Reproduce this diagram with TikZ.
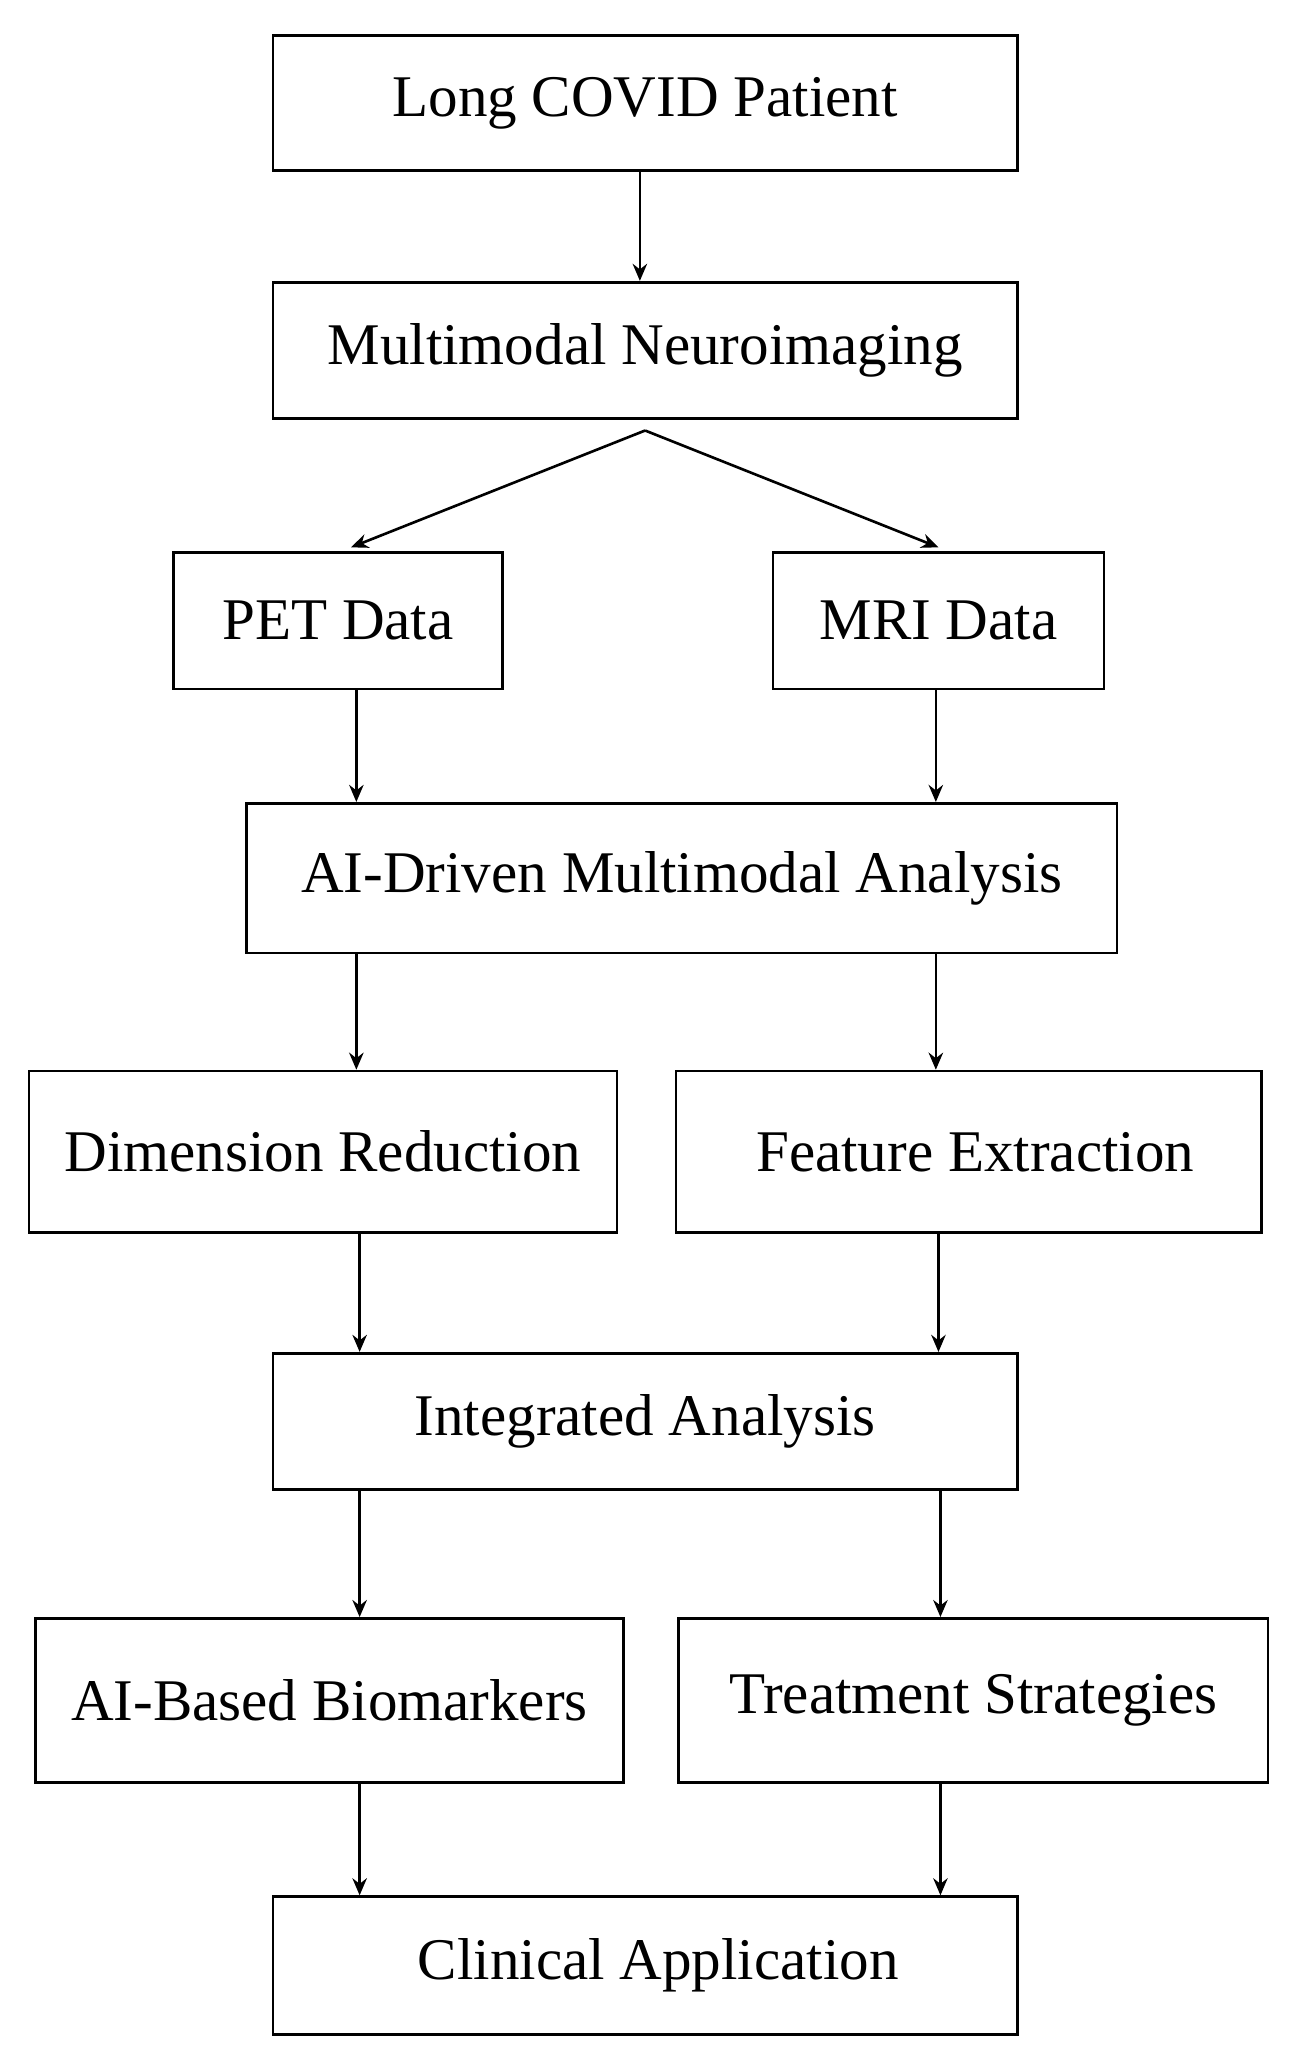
\documentclass[tikz,border=0pt]{standalone}
\usepackage{fontspec}
\setmainfont{Liberation Serif}
\usetikzlibrary{arrows.meta}
\tikzset{every picture/.style={line width=2pt}}
\tikzset{
  box/.style={draw, inner sep=0pt, font=\fontsize{45}{50}\selectfont},
  arr/.style={-{Stealth[length=13pt,width=11pt]}}
}
\begin{document}
\begin{tikzpicture}[x=1pt,y=1pt,yscale=-1]
\useasboundingbox (0,0) rectangle (990,1571);

% boxes
\node[box, minimum width=567pt, minimum height=103pt] (patient) at (491.5,78.5) {Long COVID Patient};
\node[box, minimum width=567pt, minimum height=104pt] (neuro) at (491.5,267) {Multimodal Neuroimaging};
\node[box, minimum width=251pt, minimum height=104pt] (pet) at (257.5,473) {PET Data};
\node[box, minimum width=252pt, minimum height=104pt] (mri) at (715,473) {MRI Data};
\node[box, minimum width=663pt, minimum height=114pt] (aidriven) at (519.5,669) {AI-Driven Multimodal Analysis};
\node[box, minimum width=448pt, minimum height=123pt] (dimred) at (246,877.5) {Dimension Reduction};
\node[box, minimum width=446pt, minimum height=123pt] (feature) at (738,877.5) {\hspace*{10pt}Feature Extraction};
\node[box, minimum width=567pt, minimum height=104pt] (integrated) at (491.5,1083) {Integrated Analysis};
\node[box, minimum width=448pt, minimum height=125pt] (biomark) at (251,1295.5) {AI-Based Biomarkers};
\node[box, minimum width=449pt, minimum height=125pt] (treat) at (741.5,1295.5) {Treatment Strategies};
\node[box, minimum width=567pt, minimum height=105pt] (clinical) at (491.5,1497.5) {\hspace*{20pt}Clinical Application};

% connectors
\coordinate (split) at ([yshift=8pt]neuro.south);
\draw[arr] ([xshift=-4pt]patient.south) -- ([xshift=-4pt]neuro.north);
\draw[arr] (split) -- ([xshift=10pt,yshift=-3pt]pet.north);
\draw[arr] (split) -- ([yshift=-3pt]mri.north);
\draw[arr] ([xshift=14pt]pet.south) -- ([xshift=14pt]pet.south |- aidriven.north);
\draw[arr] ([xshift=-2pt]mri.south) -- ([xshift=-2pt]mri.south |- aidriven.north);
\draw[arr] ([xshift=14pt]pet.south |- aidriven.south) -- ([xshift=14pt]pet.south |- dimred.north);
\draw[arr] ([xshift=-2pt]mri.south |- aidriven.south) -- ([xshift=-2pt]mri.south |- feature.north);
\draw[arr] ([xshift=28pt]dimred.south) -- ([xshift=28pt]dimred.south |- integrated.north);
\draw[arr] ([xshift=-23pt]feature.south) -- ([xshift=-23pt]feature.south |- integrated.north);
\draw[arr] ([xshift=23pt]biomark.north |- integrated.south) -- ([xshift=23pt]biomark.north);
\draw[arr] ([xshift=-25pt]treat.north |- integrated.south) -- ([xshift=-25pt]treat.north);
\draw[arr] ([xshift=23pt]biomark.south) -- ([xshift=23pt]biomark.south |- clinical.north);
\draw[arr] ([xshift=-25pt]treat.south) -- ([xshift=-25pt]treat.south |- clinical.north);
\end{tikzpicture}
\end{document}
